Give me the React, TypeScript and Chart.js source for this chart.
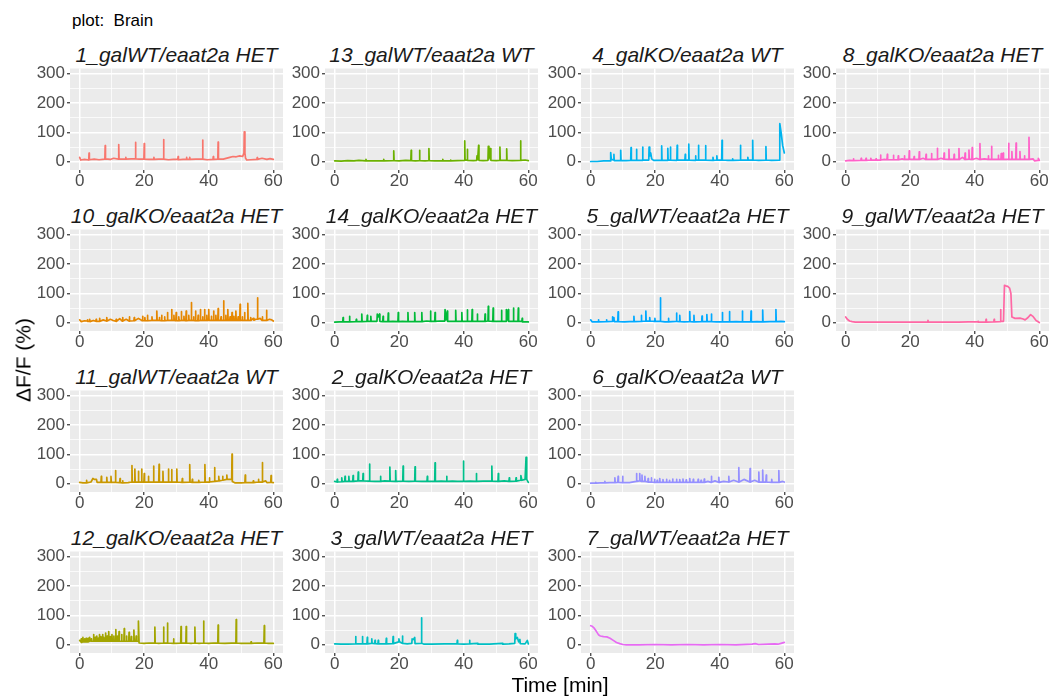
import React, { useEffect, useRef } from "react";
import { Chart, registerables } from "chart.js";

Chart.register(...registerables);

type Pt = [number, number];

// ---------- axes ----------
const X_MIN = -3;
const X_MAX = 63;
const Y_MIN = -28;
const Y_MAX = 318;
const X_TICKS = [0, 10, 20, 30, 40, 50, 60];
const X_MAJOR = [0, 20, 40, 60];
const Y_TICKS = [0, 50, 100, 150, 200, 250, 300];
const Y_MAJOR = [0, 100, 200, 300];

// ---------- traces: [time (min), dF/F (%)] ----------
const TRACE_1: Pt[] = [[0,15],[0.3,6],[1.5,8],[2.8,6],[2.9,30],[3.0,7],[4.5,9],[6,7],[7.8,9],[7.9,55],[8.0,10],[9.5,8],[10.5,12],[12.0,9],[12.1,59],[12.2,10],[13.5,9],[14.2,9],[14.3,15],[14.4,9],[16,10],[17.2,10],[17.3,66],[17.4,10],[18.5,9],[19.9,10],[20,62],[20.1,9],[21.5,8],[22.9,8],[23,15],[23.1,8],[24.5,9],[25.9,10],[26,76],[26.1,9],[27.5,7],[29,8],[30.4,8],[30.5,18],[30.6,7],[32,8],[33,8],[33.1,15],[33.2,8],[34,8],[34.1,15],[34.2,8],[36,9],[38,9],[38.1,74],[38.2,9],[39.5,7],[41.3,8],[41.4,18],[41.5,8],[42.8,9],[42.9,67],[43,10],[44.5,9],[46.5,15],[47.5,18],[48.5,17],[49.6,20],[50.5,18],[50.9,30],[51,102],[51.2,30],[51.4,12],[51.8,6],[53,7],[54.9,8],[55,14],[55.1,8],[56.5,12],[58,8],[59,11],[60,8]];
const TRACE_13: Pt[] = [[0,3],[2,2],[4,4],[6,3],[7.5,5],[9.6,3],[9.7,8],[9.8,3],[12,3],[15.1,3],[15.2,8],[15.3,3],[18.2,4],[18.3,37],[18.4,4],[20,3],[22,5],[23.6,4],[23.7,39],[23.8,4],[25,3],[26.2,4],[26.3,39],[26.4,4],[28,3],[29.1,4],[29.2,45],[29.3,4],[31,3],[33.4,3],[33.5,8],[33.6,3],[35.8,3],[35.9,6],[36,3],[38,4],[40.2,5],[40.3,71],[40.4,6],[41,6],[41.1,42],[41.2,5],[43,4],[44,5],[44.1,20],[44.3,8],[44.6,56],[44.7,5],[46,4],[47.5,5],[47.6,53],[47.8,10],[48.3,45],[48.4,5],[50,4],[51.1,5],[51.2,50],[51.3,5],[53.2,5],[53.3,44],[53.4,5],[55,4],[57.5,5],[57.6,71],[57.7,5],[59,6],[60,4]];
const TRACE_4: Pt[] = [[0,1],[2,1],[4,3],[6.1,3],[6.2,31],[6.4,8],[7.1,6],[7.2,25],[7.3,4],[9.2,4],[9.3,39],[9.4,4],[11,4],[12.4,5],[12.5,48],[12.6,5],[14.1,5],[14.2,42],[14.3,5],[16,5],[16.1,50],[16.2,6],[18,6],[18.1,50],[18.3,20],[18.6,30],[18.9,10],[19.5,5],[21.9,5],[22,54],[22.1,5],[23.8,5],[23.9,46],[24,6],[24.6,6],[24.7,50],[24.8,6],[26.7,5],[26.8,56],[26.9,6],[29.2,6],[29.3,25],[29.4,6],[30.3,6],[30.4,60],[30.5,6],[32.4,5],[32.5,20],[32.6,6],[33.3,6],[33.4,56],[33.5,6],[35.5,6],[35.6,55],[35.7,6],[37.8,5],[37.9,15],[38,5],[39,6],[39.1,20],[39.2,6],[40.6,6],[40.7,73],[40.8,6],[42.5,5],[43.9,5],[44,10],[44.1,5],[46.3,6],[46.4,56],[46.5,6],[48.6,6],[48.7,15],[48.8,6],[50.1,6],[50.2,73],[50.3,6],[52,5],[54.2,6],[54.3,52],[54.4,6],[56,5],[58.4,6],[58.6,130],[59,100],[59.5,55],[59.8,40],[60,30]];
const TRACE_8: Pt[] = [[0,3],[1.2,5],[2.3,4],[2.4,10],[2.5,4],[4.7,5],[4.8,12],[4.9,5],[6.2,5],[6.3,12],[6.4,5],[7.7,6],[7.8,12],[7.9,6],[9.3,6],[9.4,10],[9.5,6],[10.7,6],[10.8,23],[10.9,6],[12,8],[12.8,7],[12.9,25],[13,7],[14.7,7],[14.8,22],[14.9,7],[16.2,7],[16.3,20],[16.4,7],[17.5,10],[18.1,8],[18.2,20],[18.3,8],[19.6,8],[19.7,37],[19.8,8],[21.1,8],[21.2,18],[21.3,8],[22.7,8],[22.8,34],[22.9,8],[24,12],[24.8,8],[24.9,25],[25,8],[26.5,8],[26.6,28],[26.7,8],[28.3,8],[28.4,46],[28.5,8],[29.5,12],[30.4,9],[30.5,30],[30.6,9],[31.9,8],[32,42],[32.1,8],[33.5,8],[33.6,25],[33.7,8],[35,8],[35.1,45],[35.2,8],[36.2,15],[36.9,8],[37,30],[37.1,8],[38.1,9],[38.2,40],[38.3,9],[39.1,8],[39.2,48],[39.3,8],[40.5,12],[41.5,8],[41.6,62],[41.7,8],[43,10],[44.1,8],[44.2,20],[44.3,8],[45.1,8],[45.2,53],[45.3,8],[47.2,8],[47.3,22],[47.4,8],[48.1,8],[48.2,28],[48.3,8],[48.7,8],[48.8,30],[48.9,8],[50.4,8],[50.5,63],[50.6,8],[51.4,8],[51.5,35],[51.6,8],[52.7,8],[52.8,64],[52.9,8],[53.9,8],[54,35],[54.1,8],[55.3,8],[55.4,20],[55.5,8],[56.7,8],[56.8,83],[56.9,8],[58.1,10],[58.5,3],[59.6,5],[59.7,12],[60,5]];
const TRACE_10: Pt[] = [[0,10],[0.5,4],[1.5,7],[2.3,6],[2.4,10],[2.5,5],[3,5],[3.1,12],[3.2,4],[4.2,8],[5,5],[5.1,12],[5.2,5],[6.1,5],[6.2,15],[6.3,5],[7.3,10],[8.3,6],[8.4,18],[8.5,6],[9.5,12],[10.4,8],[11.2,5],[11.3,12],[11.4,5],[12.4,14],[13.2,6],[13.3,18],[13.4,6],[14.4,12],[15.3,6],[15.4,20],[15.5,6],[16.8,7],[16.9,18],[17,7],[18.2,15],[19.4,7],[19.5,22],[19.6,7],[20.1,7],[20.2,18],[20.3,7],[20.9,7],[21,25],[21.1,7],[22.3,8],[22.4,20],[22.5,8],[23.8,8],[23.9,40],[24,8],[24.6,8],[24.7,18],[24.8,8],[25.3,7],[25.4,25],[25.5,7],[26.2,7],[26.3,20],[26.4,7],[27.1,8],[27.2,35],[27.3,8],[28.4,8],[28.5,45],[28.6,8],[29.1,8],[29.2,25],[29.3,8],[29.8,7],[29.9,35],[30,7],[30.6,7],[30.7,20],[30.8,7],[31.4,8],[31.5,38],[31.6,8],[32.2,8],[32.3,22],[32.4,8],[32.9,7],[33,40],[33.1,7],[33.7,8],[33.8,25],[33.9,8],[34.5,8],[34.6,69],[34.7,8],[35.2,8],[35.3,20],[35.4,8],[35.8,7],[35.9,40],[36,7],[36.6,7],[36.7,25],[36.8,7],[37.3,8],[37.4,45],[37.5,8],[38,8],[38.1,20],[38.2,8],[38.6,8],[38.7,45],[38.8,8],[39.3,8],[39.4,25],[39.5,8],[39.9,8],[40,45],[40.1,8],[40.7,8],[40.8,22],[40.9,8],[41.4,8],[41.5,40],[41.6,8],[42.1,8],[42.2,25],[42.3,8],[42.8,8],[42.9,48],[43,8],[43.7,8],[43.8,20],[43.9,8],[44.5,8],[44.6,75],[44.7,8],[45.2,8],[45.3,25],[45.4,8],[45.8,8],[45.9,45],[46,8],[46.5,8],[46.6,20],[46.7,8],[47.1,8],[47.2,35],[47.3,8],[47.7,8],[47.8,22],[47.9,8],[48.3,8],[48.4,40],[48.5,8],[49,8],[49.1,20],[49.2,8],[49.6,8],[49.7,63],[49.8,8],[50.3,8],[50.4,20],[50.5,8],[51,8],[51.1,35],[51.2,8],[52,8],[52.1,66],[52.2,8],[52.9,8],[53,18],[53.1,8],[53.8,15],[54,9],[54.6,12],[55,12],[55.1,85],[55.2,12],[55.9,15],[56.5,8],[56.6,20],[56.7,8],[57.8,8],[57.9,42],[58,8],[58.8,12],[59.5,10],[60,6]];
const TRACE_14: Pt[] = [[0,2],[1.5,3],[2.5,3],[2.6,18],[2.7,3],[4.5,3],[4.6,22],[4.7,3],[6.6,4],[6.7,12],[6.8,4],[8.3,4],[8.4,30],[8.5,4],[10,5],[10.1,25],[10.2,5],[11.1,5],[11.2,22],[11.3,5],[13.1,5],[13.2,30],[13.5,20],[13.9,30],[14,5],[14.9,4],[15,22],[15.1,4],[16.5,4],[16.6,33],[16.7,4],[18,5],[19.6,4],[19.7,35],[19.8,4],[21,5],[22.6,4],[22.7,35],[22.8,4],[24.7,4],[24.8,35],[24.9,4],[26.9,4],[27,35],[27.1,4],[28.5,6],[29.6,5],[29.7,40],[29.8,5],[31,5],[31.1,35],[31.2,5],[32.5,6],[34.1,6],[34.2,45],[34.5,10],[34.9,40],[35,5],[37.4,5],[37.5,42],[37.6,5],[39.3,5],[39.4,35],[39.5,5],[41,5],[41.1,44],[41.2,5],[42.5,5],[42.6,45],[42.7,5],[44.1,5],[44.2,30],[44.3,5],[46.5,5],[46.6,30],[46.7,5],[47.5,6],[47.6,56],[47.7,6],[49,5],[49.1,50],[49.2,5],[51.6,5],[51.7,42],[51.8,5],[53.1,5],[53.2,45],[53.5,10],[53.8,45],[53.9,5],[55.3,5],[55.4,50],[55.5,5],[56.8,5],[56.9,50],[57,5],[58,5],[58.1,15],[58.2,3],[60,3]];
const TRACE_5: Pt[] = [[0,10],[0.5,3],[2.3,3],[2.4,10],[2.5,3],[4.8,4],[4.9,10],[5,4],[6.7,5],[6.8,20],[7,10],[7.2,18],[7.3,4],[8.4,4],[8.5,37],[8.6,4],[10.5,3],[12,4],[13.3,4],[13.4,22],[13.5,4],[15.6,5],[15.7,25],[15.8,5],[17,6],[17.1,40],[17.2,6],[18.2,6],[18.3,18],[18.4,6],[19.8,5],[19.9,15],[20,5],[21.5,5],[21.6,85],[21.7,5],[23,3],[24,3],[24.1,15],[24.2,3],[26.5,5],[26.6,33],[26.7,5],[27.5,4],[27.6,25],[27.7,4],[29,3],[30.6,4],[30.7,38],[30.8,4],[31.9,3],[32,25],[32.1,3],[34.4,4],[34.5,23],[34.6,4],[35.9,4],[36,28],[36.1,4],[37.3,4],[37.4,30],[37.5,4],[39,3],[40.7,3],[40.8,35],[40.9,3],[42.9,3],[43,38],[43.1,3],[45,4],[46.9,3],[47,40],[47.1,3],[49.6,3],[49.7,40],[49.8,3],[51.5,4],[53.2,3],[53.3,43],[53.4,3],[55.5,4],[57.3,4],[57.4,45],[57.5,4],[59,5],[60,4]];
const TRACE_9: Pt[] = [[0,20],[0.5,12],[1.2,6],[2,4],[3,2],[5,2],[8,2],[12,2],[16,2],[20,2],[25.4,2],[25.5,8],[25.6,2],[30,2],[35,2],[38,3],[40.9,3],[41,5],[41.1,2],[43.4,2],[43.5,12],[43.6,2],[45.9,3],[46,12],[46.1,3],[47.9,4],[48,45],[48.1,5],[48.9,5],[49.2,128],[49.6,126],[50.2,124],[50.8,118],[51.2,100],[51.5,20],[52.5,15],[54,16],[55,13],[55.6,10],[56.5,18],[57.3,28],[58,22],[59,8],[60,1]];
const TRACE_11: Pt[] = [[0,5],[1,3],[2,3],[2.1,12],[2.2,3],[3.5,6],[4.1,18],[4.5,15],[5.2,15],[5.3,15],[5.4,5],[6.6,5],[6.7,25],[6.8,5],[8.3,5],[8.4,22],[8.5,5],[9.6,5],[9.7,25],[9.8,5],[11,5],[11.1,45],[11.2,5],[12.4,4],[12.5,18],[12.6,4],[13.2,3],[13.3,10],[13.4,3],[15,4],[16.1,6],[16.2,62],[16.3,6],[17,6],[17.1,50],[17.2,6],[18.1,6],[18.2,42],[18.3,6],[19.1,6],[19.2,50],[19.3,6],[19.9,6],[20,35],[20.1,6],[21.2,6],[21.3,25],[21.4,6],[22.8,6],[22.9,60],[23,6],[24.5,6],[24.6,66],[24.7,6],[25.7,6],[25.8,42],[25.9,6],[27.4,6],[27.5,50],[27.6,6],[28.4,6],[28.5,48],[28.6,6],[30,6],[30.1,50],[30.2,6],[31.7,5],[31.8,18],[31.9,5],[34,6],[34.1,65],[34.2,6],[34.8,5],[34.9,15],[35,5],[36.8,5],[36.9,12],[37,5],[38.7,6],[38.8,65],[38.9,6],[40.1,6],[40.2,20],[40.3,6],[41.7,8],[41.8,55],[41.9,8],[43,10],[43.1,25],[43.2,10],[44.2,12],[44.3,25],[44.4,12],[45.5,15],[45.6,30],[45.7,15],[47.1,15],[47.2,101],[47.3,8],[48.2,3],[50,3],[51.2,4],[51.3,30],[51.4,4],[53.7,4],[53.8,10],[53.9,4],[55.3,6],[55.4,15],[55.5,6],[56.5,6],[56.6,72],[56.7,6],[57.6,10],[58,4],[59.2,5],[59.3,28],[59.4,5],[60,4]];
const TRACE_2: Pt[] = [[0,8],[0.7,6],[0.8,15],[0.9,6],[2.1,7],[2.2,20],[2.3,7],[3.1,8],[3.2,25],[3.3,8],[4.3,8],[4.4,25],[4.5,8],[5.6,8],[5.7,28],[5.8,8],[7.2,10],[7.3,40],[7.4,10],[8.7,10],[8.8,35],[8.9,10],[10.7,9],[10.8,67],[10.9,9],[12.5,8],[14.1,8],[14.2,25],[14.3,8],[15.5,10],[17,9],[17.1,57],[17.2,9],[18.8,8],[18.9,45],[19,8],[21.1,9],[21.2,60],[21.3,9],[23,8],[24.8,9],[24.9,58],[25,9],[27,8],[28.6,8],[28.7,25],[28.8,8],[31,8],[31.1,71],[31.2,8],[33,9],[34.6,8],[34.7,25],[34.8,8],[36.5,9],[38,8],[39.8,8],[39.9,77],[40,8],[42,9],[43.8,8],[43.9,35],[44,8],[46,9],[48.6,9],[48.7,60],[48.8,9],[50.6,8],[50.7,35],[50.8,8],[52.5,10],[54,8],[54.1,20],[54.2,8],[56.1,9],[56.2,20],[56.3,9],[57.6,12],[57.7,28],[58,12],[59,15],[59.2,15],[59.3,90],[59.5,15],[60,5]];
const TRACE_6: Pt[] = [[0,2],[1.5,2],[1.6,5],[1.7,2],[3,3],[4.3,3],[4.4,8],[4.5,3],[6,4],[7.4,4],[7.5,20],[7.6,4],[8.4,5],[8.5,25],[8.6,5],[9.8,4],[9.9,25],[10,4],[12,4],[14.1,8],[14.2,35],[14.3,8],[15.1,10],[15.2,35],[15.3,10],[15.8,8],[15.9,30],[16,8],[16.7,8],[16.8,25],[16.9,8],[17.7,6],[17.8,18],[17.9,6],[18.7,6],[18.8,20],[18.9,6],[19.7,5],[19.8,15],[19.9,5],[20.5,5],[20.6,12],[20.7,5],[21.3,5],[21.4,18],[21.5,5],[22.3,5],[22.4,14],[22.5,5],[23.4,5],[23.5,15],[23.6,5],[24.3,5],[24.4,12],[24.5,5],[25.3,5],[25.4,16],[25.5,5],[26.5,5],[26.6,15],[26.7,5],[27.5,5],[27.6,14],[27.7,5],[28.5,5],[28.6,16],[28.7,5],[29.5,5],[29.6,13],[29.7,5],[30.6,5],[30.7,18],[30.8,5],[31.7,5],[31.8,15],[31.9,5],[33.2,5],[33.3,15],[33.4,5],[34.1,5],[34.2,12],[34.3,5],[35.1,5],[35.2,16],[35.3,5],[36.3,8],[37.3,5],[37.4,25],[37.5,5],[38.5,10],[39.6,5],[39.7,22],[39.8,5],[41.2,8],[42.7,6],[42.8,25],[42.9,6],[44.3,12],[45.8,6],[45.9,55],[46,6],[47.5,15],[49.3,6],[49.4,52],[49.5,6],[50.8,12],[52,6],[52.1,40],[52.2,6],[53.2,6],[53.3,47],[53.4,6],[54.3,6],[54.4,30],[54.5,6],[56,5],[56.1,15],[56.2,5],[58.2,5],[58.3,45],[58.4,5],[59.5,8],[60,6]];
const TRACE_12: Pt[] = [[0,15],[0.4,10],[0.5,20],[0.6,8],[0.9,10],[1,25],[1.1,10],[1.4,10],[1.5,20],[1.6,10],[1.9,10],[2,22],[2.1,10],[2.5,10],[2.6,22],[2.7,10],[3,12],[3.1,25],[3.2,12],[3.5,12],[3.6,20],[3.7,12],[4.2,12],[4.3,35],[4.4,12],[4.7,12],[4.8,25],[4.9,12],[5.2,12],[5.3,30],[5.4,12],[5.6,12],[5.7,22],[5.8,12],[6,12],[6.1,35],[6.2,12],[6.5,12],[6.6,28],[6.7,12],[7,12],[7.1,35],[7.2,12],[7.4,12],[7.5,25],[7.6,12],[7.9,12],[8,40],[8.1,12],[8.4,12],[8.5,30],[8.6,12],[8.9,12],[9,45],[9.1,12],[9.4,12],[9.5,28],[9.6,12],[9.9,12],[10,35],[10.1,12],[10.5,12],[10.6,30],[10.7,12],[11.1,12],[11.2,52],[11.3,12],[11.6,12],[11.7,30],[11.8,12],[12.1,12],[12.2,45],[12.3,12],[12.9,12],[13,35],[13.1,12],[13.7,12],[13.8,55],[13.9,12],[14.4,12],[14.5,30],[14.6,12],[15.2,12],[15.3,42],[15.4,12],[15.9,12],[16,28],[16.1,12],[16.7,12],[16.8,50],[16.9,12],[17.4,12],[17.5,30],[17.6,12],[18.1,12],[18.2,81],[18.4,6],[20,5],[21.5,6],[23.2,6],[23.3,60],[23.4,6],[24.5,5],[25.9,6],[26,60],[26.1,6],[27.1,6],[27.2,74],[27.3,6],[29,5],[29.1,20],[29.2,5],[31.3,6],[31.4,62],[31.5,6],[32.9,6],[33,62],[33.1,6],[34.5,5],[35.6,6],[35.7,60],[35.8,6],[37,5],[38.3,6],[38.4,81],[38.5,6],[40,5],[41.5,6],[42.8,6],[42.9,67],[43,6],[45,5],[47,6],[48.4,6],[48.5,86],[48.6,6],[50,5],[53,5],[53.1,10],[53.2,5],[55,6],[57,6],[57.1,12],[57.2,65],[57.3,6],[58.5,5],[60,5]];
const TRACE_3: Pt[] = [[0,3],[2,2],[4,2],[6.4,3],[6.5,28],[6.6,3],[8.5,3],[8.6,28],[8.7,3],[10,3],[10.1,25],[10.2,3],[11.4,5],[11.5,20],[11.6,5],[12.4,4],[12.5,15],[12.6,4],[13.4,3],[13.5,15],[13.6,3],[15,3],[15.9,3],[16,22],[16.1,3],[18,4],[18.1,28],[18.2,4],[19.8,10],[19.9,20],[20.1,10],[20.9,5],[21,30],[21.1,5],[22.5,3],[23.9,5],[24,20],[24.4,18],[24.8,25],[24.9,4],[26.8,5],[26.9,92],[27,5],[27.7,2],[30,2],[34,3],[37.9,3],[38,15],[38.1,3],[40,2],[41.7,3],[41.8,15],[41.9,3],[44.2,5],[44.4,2],[48,2],[51.9,5],[52.1,2],[54,3],[55.8,5],[55.9,38],[56.1,20],[56.6,25],[57,10],[57.4,18],[57.5,4],[59,3],[59.7,15],[60,3]];
const TRACE_7: Pt[] = [[0,65],[0.5,63],[1,58],[1.8,45],[2.5,33],[3,30],[4,28],[5,27],[6,22],[7,15],[8,8],[9,4],[10,1],[11,0],[15,0],[20,1],[25,0],[30,1],[35,0],[40,1],[45,0],[50,2],[51,4],[52,1],[55,2],[57,3],[58,2],[59,5],[60,8]];

// ---------- facets (column-major order) ----------
const PANEL_TITLES = [
  "1_galWT/eaat2a HET", "10_galKO/eaat2a HET", "11_galWT/eaat2a WT", "12_galKO/eaat2a HET",
  "13_galWT/eaat2a WT", "14_galKO/eaat2a HET", "2_galKO/eaat2a HET", "3_galWT/eaat2a HET",
  "4_galKO/eaat2a WT", "5_galWT/eaat2a HET", "6_galKO/eaat2a WT", "7_galWT/eaat2a HET",
  "8_galKO/eaat2a HET", "9_galWT/eaat2a HET",
];
const PANEL_TRACES = [
  TRACE_1, TRACE_10, TRACE_11, TRACE_12,
  TRACE_13, TRACE_14, TRACE_2, TRACE_3,
  TRACE_4, TRACE_5, TRACE_6, TRACE_7,
  TRACE_8, TRACE_9,
];
const PANEL_COLORS = [
  "#F8766D", "#E58700", "#C99800", "#A3A500",
  "#6BB100", "#00BA38", "#00C08B", "#00BFC4",
  "#00B4EF", "#00A9FF", "#9590FF", "#E76BF3",
  "#FF61C9", "#FF67A4",
];

// ---------- layout ----------
const COL_LEFTS = [70, 325, 581, 836];
const ROW_TOPS = [68, 229, 390, 551];
const PANEL_W = 213;
const PANEL_H = 102;
const Y_AXIS_W = 50;
const X_AXIS_H = 26;
const PAD_T = 10;
const PAD_R = 8;
const FONT = '"Liberation Sans", Arial, Helvetica, sans-serif';

const bgPlugin = {
  id: "panelBg",
  beforeDraw(chart: any) {
    const { ctx, chartArea: a } = chart;
    ctx.save();
    ctx.fillStyle = "#EBEBEB";
    ctx.fillRect(a.left, a.top, a.right - a.left, a.bottom - a.top);
    ctx.restore();
  },
};

function makeAxis(min: number, max: number, ticks: number[], major: number[], horizontal: boolean) {
  const isMajor = (c: any) => c && c.tick && major.includes(c.tick.value);
  return {
    type: "linear" as const,
    min,
    max,
    afterBuildTicks: (s: any) => {
      s.ticks = ticks.map((v) => ({ value: v }));
    },
    afterFit: (s: any) => {
      if (horizontal) s.height = X_AXIS_H;
      else s.width = Y_AXIS_W;
    },
    border: { display: false },
    grid: {
      color: "#FFFFFF",
      lineWidth: (c: any) => (isMajor(c) ? 1.5 : 0.75),
      drawTicks: true,
      tickLength: 3,
      tickWidth: 1.2,
      tickColor: (c: any) => (isMajor(c) ? "#333333" : "rgba(0,0,0,0)"),
    },
    ticks: {
      autoSkip: false,
      maxRotation: 0,
      minRotation: 0,
      padding: horizontal ? 0 : 2,
      color: "#4D4D4D",
      font: { family: FONT, size: 17, lineHeight: 1 },
      callback: (v: any) => (major.includes(Number(v)) ? String(v) : ""),
    },
  };
}

function Panel({ trace, color, left, top }: { trace: Pt[]; color: string; left: number; top: number }) {
  const ref = useRef<HTMLCanvasElement>(null);
  const w = Y_AXIS_W + PANEL_W + PAD_R;
  const h = PAD_T + PANEL_H + X_AXIS_H;
  useEffect(() => {
    if (!ref.current) return;
    const chart = new Chart(ref.current, {
      type: "line",
      data: {
        datasets: [
          {
            data: trace.map(([x, y]) => ({ x, y })),
            borderColor: color,
            borderWidth: 1.7,
            borderJoinStyle: "round",
            borderCapStyle: "round",
            pointRadius: 0,
            tension: 0,
            fill: false,
          },
        ],
      },
      options: {
        animation: false,
        responsive: false,
        maintainAspectRatio: false,
        devicePixelRatio: 1,
        events: [],
        layout: { padding: { top: PAD_T, right: PAD_R, left: 0, bottom: 0 } },
        plugins: { legend: { display: false }, tooltip: { enabled: false }, title: { display: false } },
        scales: {
          x: makeAxis(X_MIN, X_MAX, X_TICKS, X_MAJOR, true),
          y: makeAxis(Y_MIN, Y_MAX, Y_TICKS, Y_MAJOR, false),
        },
      } as any,
      plugins: [bgPlugin],
    });
    return () => chart.destroy();
  }, [trace, color]);
  return (
    <canvas
      ref={ref}
      width={w}
      height={h}
      style={{ position: "absolute", left: left - Y_AXIS_W, top: top - PAD_T, width: w, height: h }}
    />
  );
}

const textBase: React.CSSProperties = {
  position: "absolute",
  fontFamily: FONT,
  lineHeight: 1,
  whiteSpace: "pre",
  color: "#000000",
};

export default function App() {
  return (
    <div
      style={{
        position: "absolute",
        left: 0,
        top: 0,
        width: 1053,
        height: 699,
        overflow: "hidden",
        background: "#FFFFFF",
      }}
    >
      <div style={{ ...textBase, left: 72, top: 12, fontSize: 17 }}>plot:  Brain</div>
      {PANEL_TITLES.map((title, i) => {
        const col = Math.floor(i / 4);
        const row = i % 4;
        const left = COL_LEFTS[col];
        const top = ROW_TOPS[row];
        return (
          <React.Fragment key={title}>
            <div
              style={{
                ...textBase,
                left,
                width: PANEL_W,
                top: top - 24.5,
                fontSize: 21,
                fontStyle: "italic",
                textAlign: "center",
                color: "#1A1A1A",
              }}
            >
              {title}
            </div>
            <Panel trace={PANEL_TRACES[i]} color={PANEL_COLORS[i]} left={left} top={top} />
          </React.Fragment>
        );
      })}
      <div
        style={{
          ...textBase,
          left: 460,
          width: 200,
          top: 674,
          fontSize: 21,
          textAlign: "center",
        }}
      >
        Time [min]
      </div>
      <div
        style={{
          ...textBase,
          left: 23,
          top: 360,
          fontSize: 21,
          transform: "translate(-50%, -50%) rotate(-90deg)",
        }}
      >
        ΔF/F (%)
      </div>
    </div>
  );
}
